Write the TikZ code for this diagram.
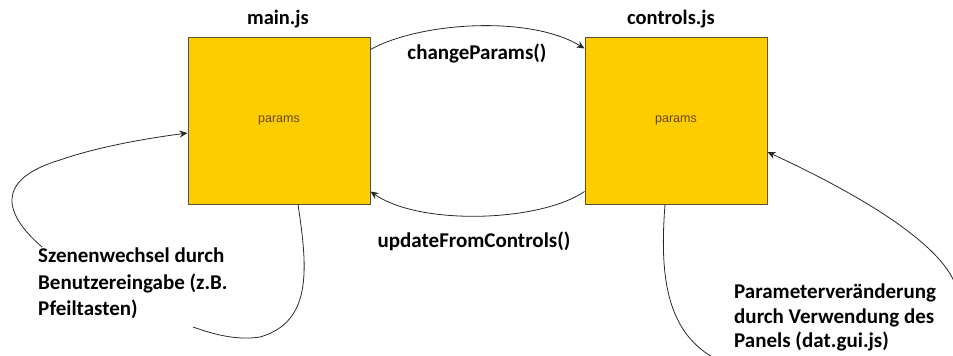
\documentclass[tikz,border=0pt]{standalone}
\usepackage{fontspec}
\setmainfont{Carlito}
\newfontfamily\smallsans{Liberation Sans}
\usetikzlibrary{arrows.meta}
\definecolor{boxfill}{RGB}{255,204,0}
\definecolor{boxline}{RGB}{90,80,50}
\definecolor{paramtext}{RGB}{100,72,5}
\definecolor{linecol}{RGB}{40,40,40}
\tikzset{
  modbox/.style={draw=boxline, line width=1pt, fill=boxfill, minimum width=182pt, minimum height=167pt, inner sep=0pt, font=\smallsans\fontsize{12.5}{14}\selectfont, text=paramtext},
  title/.style={font=\bfseries\fontsize{20.5}{23}\selectfont, inner sep=0pt},
  lbl/.style={font=\bfseries\fontsize{21}{24}\selectfont, inner sep=0pt},
  note/.style={font=\bfseries\fontsize{21}{26.5}\selectfont, align=left, inner sep=0pt, anchor=north west},
  conn/.style={draw=linecol, line width=0.8pt},
  arr/.style={conn, -{Stealth[length=8pt,width=7pt]}}
}
\begin{document}
\begin{tikzpicture}[x=1pt,y=-1pt]
\useasboundingbox (0,0) rectangle (953,356);
\node[modbox] (L) at (279,120.5) {params};
\node[modbox] (R) at (676,120.5) {params};
\node[title] (Lt) at (278,19) {main.js};
\node[title] (Rt) at (671,19) {controls.js};
\node[lbl] (cp) at (477,53) {changeParams()};
\node[lbl] (uc) at (474,241) {updateFromControls()};
\node[note] (sz) at (38,248) {Szenenwechsel durch\\Benutzereingabe (z.B.\\Pfeiltasten)};
\node[note, font=\bfseries\fontsize{21}{24.5}\selectfont] (pv) at (734,284) {Parameterveränderung\\durch Verwendung des\\Panels (dat.gui.js)};
\coordinate (la) at (193,327);
\coordinate (lb) at (42,247);
\coordinate (ra) at (714,358);
\coordinate (rb) at (958,300);
% changeParams
\draw[arr] ([yshift=-13pt]L.north east) .. controls (420,22) and (530,15) .. ([yshift=-12pt]R.north west);
% updateFromControls
\draw[arr] ([yshift=13pt]R.south west) .. controls (540,222) and (420,226) .. ([yshift=13pt]L.south east);
% left loop
\draw[conn] ([xshift=19pt]L.south) .. controls (308,270) and (312,322) .. (260,337) .. controls (235,341) and (210,333) .. (la);
\draw[arr] (lb) .. controls (5,215) and (-7,180) .. (60,160) .. controls (100,146) and (150,138) .. ([yshift=-12.5pt]L.west);
% right loop
\draw[conn] ([xshift=-11pt]R.south) .. controls (660,270) and (664,330) .. (ra);
\draw[arr] (rb) .. controls (960,250) and (850,190) .. ([yshift=-31.5pt]R.east);
\end{tikzpicture}
\end{document}
